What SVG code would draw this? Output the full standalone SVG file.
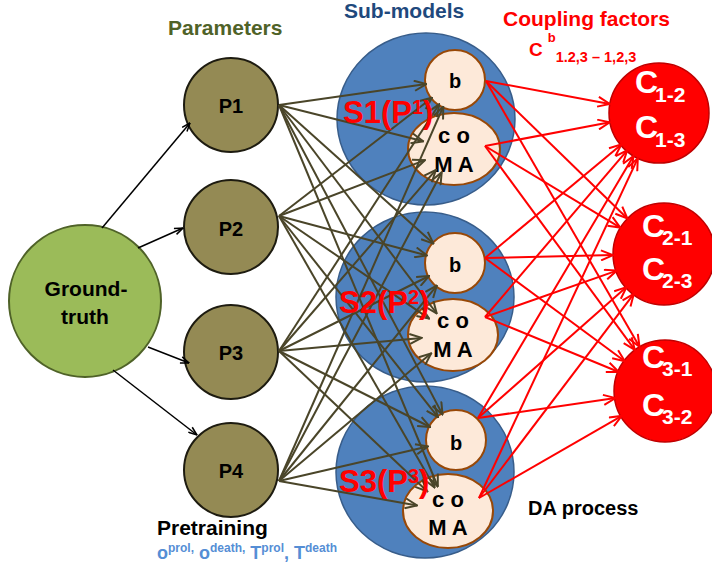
<svg xmlns="http://www.w3.org/2000/svg" width="712" height="568" viewBox="0 0 712 568">
<style>
text{font-family:"Liberation Sans",Arial,sans-serif;font-weight:bold}
.gt{fill:#9bbb59;stroke:#4f6228;stroke-width:2}
.p{fill:#948a54;stroke:#1d1b10;stroke-width:2}
.sm{fill:#4f81bd;stroke:#385d8a;stroke-width:1.5}
.in{fill:#fde9d9;stroke:#984807;stroke-width:2}
.cc{fill:#ff0000;stroke:#c00000;stroke-width:1.5}
.blk{stroke:#000;stroke-width:1.5;fill:none;marker-end:url(#ab)}
.olv{stroke:#4a4529;stroke-width:2;fill:none;marker-end:url(#ao)}
.red{stroke:#ff0000;stroke-width:2;fill:none;marker-end:url(#ar)}
.lbl{font-size:20px;fill:#000;text-anchor:middle}
.inl{font-size:22px;fill:#000;text-anchor:middle}
.ct{font-size:32px;fill:#fff}
.cs{font-size:21px}
.sl{font-size:31px;fill:#ff0000}
</style>
<defs>
<marker id="ab" viewBox="0 0 10 8" refX="9.5" refY="4" markerWidth="10" markerHeight="8" orient="auto" markerUnits="userSpaceOnUse"><path d="M1,0.8 L9.5,4 L1,7.2" fill="none" stroke="#000" stroke-width="1.5"/></marker>
<marker id="ao" viewBox="0 0 14 12" refX="13" refY="6" markerWidth="14" markerHeight="12" orient="auto" markerUnits="userSpaceOnUse"><path d="M1,1 L13,6 L1,11" fill="none" stroke="#4a4529" stroke-width="2"/></marker>
<marker id="ar" viewBox="0 0 14 12" refX="13" refY="6" markerWidth="14" markerHeight="12" orient="auto" markerUnits="userSpaceOnUse"><path d="M1,1 L13,6 L1,11" fill="none" stroke="#ff0000" stroke-width="2"/></marker>
</defs>

<g id="headings">
<text x="168" y="35" font-size="21" fill="#4f6228">Parameters</text>
<text x="344" y="18" font-size="21" fill="#1f497d">Sub-models</text>
<text x="503" y="26" font-size="21" fill="#ff0000">Coupling factors</text>
<text x="529" y="56" font-size="19" fill="#ff0000">C<tspan dx="5" dy="-14" font-size="13">b</tspan><tspan dy="20" font-size="14.5">1.2,3 – 1,2,3</tspan></text>
<text x="157" y="535" font-size="21" fill="#000">Pretraining</text>
<text x="157" y="559" font-size="18" fill="#558ed5">o<tspan font-size="12" dy="-7">prol,</tspan><tspan dy="7"> o</tspan><tspan font-size="12" dy="-7">death,</tspan><tspan dy="7"> T</tspan><tspan font-size="12" dy="-7">prol</tspan><tspan dy="7">, T</tspan><tspan font-size="12" dy="-7">death</tspan></text>
<text x="528" y="515" font-size="20" fill="#000">DA process</text>
</g>

<g id="ground-truth">
<circle class="gt" cx="85" cy="301" r="76"/>
<text x="86" y="296" font-size="21" text-anchor="middle">Ground-</text>
<text x="85" y="324" font-size="21" text-anchor="middle">truth</text>
</g>

<g id="P1"><circle class="p" cx="231" cy="105" r="47"/><text class="lbl" x="231" y="113">P1</text></g>
<g id="P2"><circle class="p" cx="231" cy="227" r="47"/><text class="lbl" x="231" y="236">P2</text></g>
<g id="P3"><circle class="p" cx="231" cy="352" r="47"/><text class="lbl" x="231" y="360">P3</text></g>
<g id="P4"><circle class="p" cx="231" cy="470" r="47"/><text class="lbl" x="231" y="478">P4</text></g>

<g id="S1">
<ellipse class="sm" cx="426" cy="119" rx="89" ry="86"/>
<g id="S1-b"><circle class="in" cx="455" cy="80" r="30"/><text class="lbl" x="455" y="88">b</text></g>
<g id="S1-coMA"><ellipse class="in" cx="454" cy="149" rx="46" ry="36"/><text class="inl" x="454" y="143">c o</text><text class="inl" x="454" y="172">M A</text></g>
</g>
<g id="S2">
<ellipse class="sm" cx="425" cy="297" rx="89" ry="85"/>
<g id="S2-b"><circle class="in" cx="455" cy="263" r="30"/><text class="lbl" x="455" y="272">b</text></g>
<g id="S2-coMA"><ellipse class="in" cx="453" cy="335" rx="45" ry="36"/><text class="inl" x="453" y="328">c o</text><text class="inl" x="453" y="357">M A</text></g>
</g>
<g id="S3">
<ellipse class="sm" cx="425" cy="472" rx="89" ry="86"/>
<g id="S3-b"><circle class="in" cx="456" cy="440" r="30"/><text class="lbl" x="456" y="450">b</text></g>
<g id="S3-coMA"><ellipse class="in" cx="448" cy="511" rx="45" ry="37"/><text class="inl" x="448" y="507">c o</text><text class="inl" x="448" y="535">M A</text></g>
</g>

<g id="C1"><circle class="cc" cx="659" cy="113" r="50"/>
<text class="ct" x="635" y="93">C<tspan class="cs" dx="-3" dy="9">1-2</tspan></text>
<text class="ct" x="635" y="138">C<tspan class="cs" dx="-3" dy="9">1-3</tspan></text></g>
<g id="C2"><circle class="cc" cx="664" cy="254" r="51"/>
<text class="ct" x="642" y="237">C<tspan class="cs" dx="-3" dy="8">2-1</tspan></text>
<text class="ct" x="642" y="280">C<tspan class="cs" dx="-3" dy="8">2-3</tspan></text></g>
<g id="C3"><circle class="cc" cx="665" cy="391" r="51"/>
<text class="ct" x="642" y="368">C<tspan class="cs" dx="-3" dy="8">3-1</tspan></text>
<text class="ct" x="642" y="416">C<tspan class="cs" dx="-3" dy="8">3-2</tspan></text></g>

<g id="connectors">
<path class="blk" d="M102,228 L190,123"/>
<path class="blk" d="M138,248 L183,228"/>
<path class="blk" d="M148,347 L189,363"/>
<path class="blk" d="M113,370 L197,435"/>

<path class="olv" d="M279,105 L426.3,84.1"/>
<path class="olv" d="M279,105 L423.3,141.3"/>
<path class="olv" d="M279,105 L433.4,243.6"/>
<path class="olv" d="M279,105 L436.7,313.5"/>
<path class="olv" d="M279,105 L442.5,414.4"/>
<path class="olv" d="M279,105 L437.8,486.5"/>

<path class="olv" d="M279,216 L432.1,97.7"/>
<path class="olv" d="M279,216 L425,160.1"/>
<path class="olv" d="M279,216 L427,255.5"/>
<path class="olv" d="M279,216 L429.1,318.6"/>
<path class="olv" d="M279,216 L438,417.2"/>
<path class="olv" d="M279,216 L434.6,487.6"/>

<path class="olv" d="M279,351 L439.2,104.3"/>
<path class="olv" d="M279,351 L435.9,169.9"/>
<path class="olv" d="M279,351 L429.1,276"/>
<path class="olv" d="M279,351 L421.7,337.9"/>
<path class="olv" d="M279,351 L430.1,427"/>
<path class="olv" d="M279,351 L427.4,491.5"/>

<path class="olv" d="M279,481 L443.3,106.6"/>
<path class="olv" d="M279,481 L441.7,172.3"/>
<path class="olv" d="M279,481 L436.8,285.6"/>
<path class="olv" d="M279,481 L431.2,353.3"/>
<path class="olv" d="M279,481 L427.8,446.5"/>
<path class="olv" d="M279,481 L417.2,505.5"/>

<path class="red" d="M486,81 L609.8,103.9"/>
<path class="red" d="M486,81 L627.4,218.5"/>
<path class="red" d="M486,81 L639.5,346.8"/>
<path class="red" d="M485,146 L609.9,122.3"/>
<path class="red" d="M485,146 L620.3,227.6"/>
<path class="red" d="M485,146 L634.8,349.9"/>
<path class="red" d="M485,258 L621.4,144.4"/>
<path class="red" d="M485,258 L613,255.1"/>
<path class="red" d="M485,258 L624.8,361.3"/>
<path class="red" d="M485,317 L627.2,150.3"/>
<path class="red" d="M485,317 L616.9,270.6"/>
<path class="red" d="M485,317 L618.8,372"/>
<path class="red" d="M478,418 L633.5,156"/>
<path class="red" d="M478,418 L626.5,287.1"/>
<path class="red" d="M478,418 L615.5,398.1"/>
<path class="red" d="M479,498 L637.8,158.3"/>
<path class="red" d="M479,498 L633.8,293.9"/>
<path class="red" d="M479,498 L621.8,415.9"/>
</g>

<g id="submodel-labels">
<text class="sl" x="343" y="123">S1(P<tspan font-size="20" dy="-9">1</tspan><tspan dy="9">)</tspan></text>
<text class="sl" x="339" y="313">S2(P<tspan font-size="20" dy="-9">2</tspan><tspan dy="9">)</tspan></text>
<text class="sl" x="339" y="492">S3(P<tspan font-size="20" dy="-9">3</tspan><tspan dy="9">)</tspan></text>
</g>
</svg>
